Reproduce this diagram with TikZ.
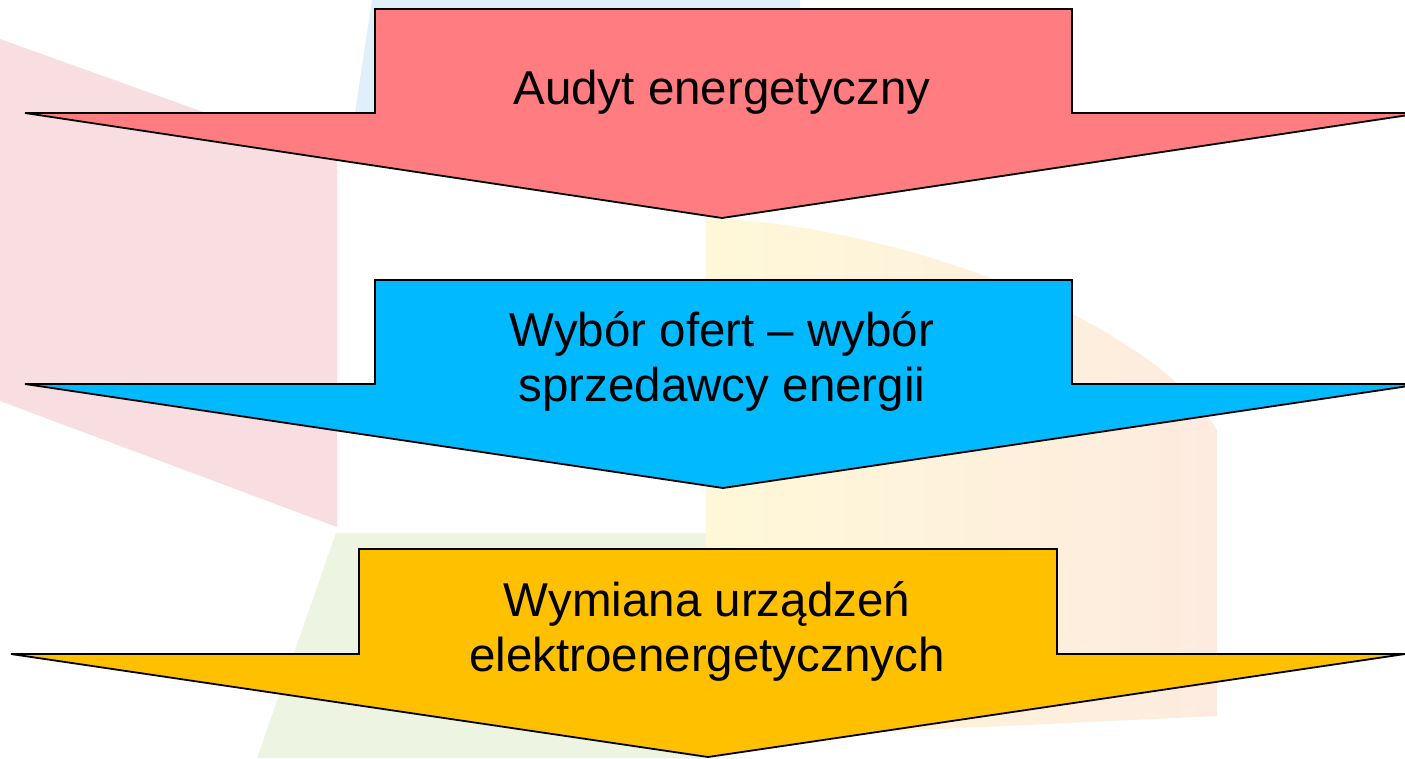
\documentclass[tikz,border=0pt]{standalone}
\usepackage{fontspec}
\setmainfont{Liberation Sans}

\definecolor{arrowred}{RGB}{255,124,128}
\definecolor{arrowblue}{RGB}{0,185,255}
\definecolor{arrowyellow}{RGB}{255,192,0}
\definecolor{bgpink}{RGB}{248,221,225}
\definecolor{bgblue}{RGB}{224,240,250}
\definecolor{bgyellow}{RGB}{255,248,216}
\definecolor{bgpeach}{RGB}{253,235,223}
\definecolor{bggreen}{RGB}{237,244,226}

\tikzset{
  blockarrow/.style={draw=black, line width=1.8pt, line join=miter},
  arrowtext/.style={font=\fontsize{47.5}{55}\selectfont, align=center,
    inner sep=0pt, anchor=base}
}

\begin{document}
\begin{tikzpicture}[x=1pt,y=-1pt]

  \useasboundingbox (0,0) rectangle (1405,758);
  \clip (0,0) rectangle (1405,758);

  %% faint background shapes
  \fill[bgpink] (0,39) -- (337,160) -- (337,527) -- (0,401) -- cycle;
  \fill[bgblue] (372,0) -- (800,0) -- (800,113) -- (355,113) -- cycle;
  \shade[left color=bgyellow, right color=bgpeach]
  (706,218) .. controls (900,225) and (1150,320) .. (1217,430)
  -- (1217,716) -- (706,740) -- cycle;
  \fill[bggreen] (336,533) -- (706,533) -- (706,758) -- (257,758) -- cycle;

  %% arrow 1
  \draw[blockarrow, fill=arrowred]
  (375,9) -- (1072,9) -- (1072,113) -- (1422,113)
  -- (722,218) -- (25,113) -- (375,113) -- cycle;
  \node[arrowtext] (audyt) at (722,104) {Audyt energetyczny};

  %% arrow 2 (base = last line)
  \draw[blockarrow, fill=arrowblue]
  (375,280) -- (1072,280) -- (1072,384) -- (1422,384)
  -- (723,488) -- (25,384) -- (375,384) -- cycle;
  \node[arrowtext] (wybor) at (722,401)
  {Wybór ofert – wybór\\sprzedawcy energii};

  %% arrow 3
  \draw[blockarrow, fill=arrowyellow]
  (359,549) -- (1057,549) -- (1057,654) -- (1405,654)
  -- (708,757) -- (11,654) -- (359,654) -- cycle;
  \node[arrowtext] (wymiana) at (707,671)
  {Wymiana urządzeń\\elektroenergetycznych};

\end{tikzpicture}
\end{document}
